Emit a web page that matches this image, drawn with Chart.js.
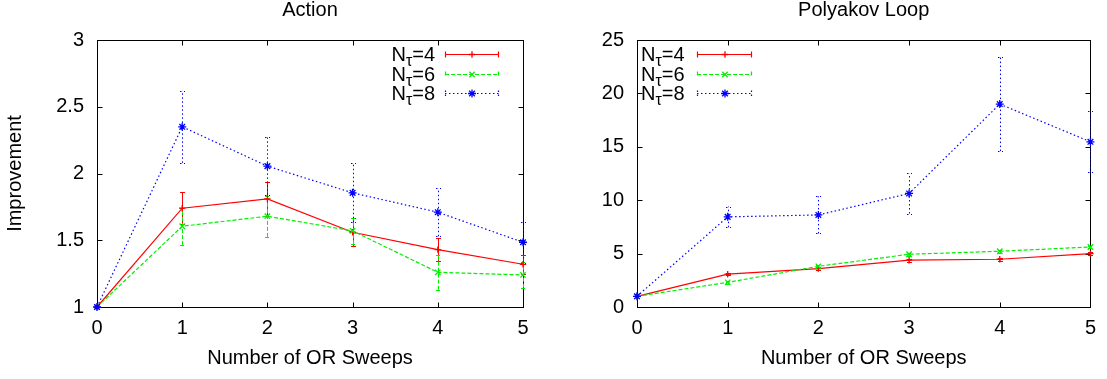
<!DOCTYPE html>
<html>
<head>
<meta charset="utf-8">
<script src="https://cdn.jsdelivr.net/npm/chart.js@4/dist/chart.umd.min.js"></script>
<style>
html,body{margin:0;padding:0;background:#fff;}
#wrap{position:relative;width:1107px;height:379px;overflow:hidden;background:#fff;}
#wrap canvas{position:absolute;top:0;}
</style>
</head>
<body>
<div id="wrap">
<canvas id="c1" width="553" height="379" style="left:0px"></canvas>
<canvas id="c2" width="554" height="379" style="left:553px"></canvas>
</div>
<script>
// ---------------- data ----------------
const sweeps = [0, 1, 2, 3, 4, 5];
const xTickValues = [0, 1, 2, 3, 4, 5];
const actionTickValues = [1, 1.5, 2, 2.5, 3];
const polyTickValues = [0, 5, 10, 15, 20, 25];
const ntValues = ['4', '6', '8'];

const actionN4    = [1.00, 1.74, 1.81, 1.56, 1.43, 1.32];
const actionN4Err = [0, 0.12, 0.125, 0.105, 0.085, 0.07];
const actionN6    = [1.00, 1.605, 1.68, 1.57, 1.26, 1.24];
const actionN6Err = [0, 0.14, 0.155, 0.10, 0.13, 0.095];
const actionN8    = [1.00, 2.35, 2.055, 1.855, 1.71, 1.485];
const actionN8Err = [0, 0.27, 0.215, 0.22, 0.18, 0.152];

const polyN4    = [1.0, 3.07, 3.60, 4.38, 4.47, 5.00];
const polyN4Err = [0, 0.12, 0.12, 0.12, 0.12, 0.12];
const polyN6    = [1.0, 2.31, 3.81, 4.94, 5.22, 5.62];
const polyN6Err = [0, 0.12, 0.12, 0.12, 0.12, 0.12];
const polyN8    = [1.0, 8.44, 8.62, 10.63, 19.0, 15.47];
const polyN8Err = [0, 0.97, 1.73, 1.88, 4.40, 2.85];

// ---------------- styles ----------------
const FONT = "'Liberation Sans', Arial, Helvetica, sans-serif";
Chart.defaults.font.family = FONT;
Chart.defaults.color = '#000';

const seriesStyles = [
  {color: '#ff0000', dash: [],       pointStyle: 'cross',    radius: 3.2, width: 1.2},
  {color: '#00f000', dash: [4, 2],   pointStyle: 'crossRot', radius: 3.8, width: 1.2},
  {color: '#0000ff', dash: [1.5, 2.5], pointStyle: 'star',   radius: 4,   width: 1.2}
];

// ---------------- plugins ----------------
const framePlugin = {
  id: 'frame',
  beforeDatasetsDraw(chart) {
    const {ctx, chartArea: a, scales} = chart;
    const L = Math.round(a.left) + 0.5, R = Math.round(a.right) + 0.5;
    const T = Math.round(a.top) + 0.5, B = Math.round(a.bottom) + 0.5;
    ctx.save();
    ctx.strokeStyle = '#000';
    ctx.lineWidth = 1;
    ctx.setLineDash([]);
    ctx.strokeRect(L, T, R - L, B - T);
    const tl = 5;
    ctx.beginPath();
    scales.x.ticks.forEach(t => {
      const px = Math.round(scales.x.getPixelForValue(t.value)) + 0.5;
      ctx.moveTo(px, B); ctx.lineTo(px, B - tl);
      ctx.moveTo(px, T); ctx.lineTo(px, T + tl);
    });
    scales.y.ticks.forEach(t => {
      const py = Math.round(scales.y.getPixelForValue(t.value)) + 0.5;
      ctx.moveTo(L, py); ctx.lineTo(L + tl, py);
      ctx.moveTo(R, py); ctx.lineTo(R - tl, py);
    });
    ctx.stroke();
    ctx.restore();
  }
};

const errorBarPlugin = {
  id: 'errorBars',
  beforeDatasetsDraw(chart) {
    const {ctx, scales: {x, y}} = chart;
    chart.data.datasets.forEach(ds => {
      ctx.save();
      ctx.strokeStyle = ds.borderColor;
      ctx.lineWidth = 1;
      ctx.setLineDash(ds.borderDash || []);
      ctx.beginPath();
      ds.data.forEach((p, j) => {
        const e = ds.errors[j];
        if (!e) return;
        const px = Math.round(x.getPixelForValue(p.x)) + 0.5;
        const y1 = y.getPixelForValue(p.y - e);
        const y2 = y.getPixelForValue(p.y + e);
        ctx.moveTo(px, y1); ctx.lineTo(px, y2);
        ctx.moveTo(px - 2.5, Math.round(y1) + 0.5); ctx.lineTo(px + 2.5, Math.round(y1) + 0.5);
        ctx.moveTo(px - 2.5, Math.round(y2) + 0.5); ctx.lineTo(px + 2.5, Math.round(y2) + 0.5);
      });
      ctx.stroke();
      ctx.restore();
    });
  }
};

const ntLegendPlugin = {
  id: 'ntLegend',
  afterDatasetsDraw(chart, args, o) {
    const {ctx} = chart;
    chart.data.datasets.forEach((ds, i) => {
      const y = o.rowY[i];
      ctx.save();
      ctx.fillStyle = '#000';
      ctx.textBaseline = 'alphabetic';
      ctx.textAlign = 'left';
      const big = '20px ' + FONT, small = '16px ' + FONT;
      ctx.font = big;
      const wN = ctx.measureText('N').width;
      const wEq = ctx.measureText('=' + ds.nt).width;
      ctx.font = small;
      const wT = ctx.measureText('τ').width;
      const total = wN + wT + wEq;
      const x0 = o.align === 'right' ? o.textX - total : o.textX;
      const base = y + 7;
      ctx.font = big;
      ctx.fillText('N', x0, base);
      ctx.font = small;
      ctx.fillText('τ', x0 + wN, base + 5);
      ctx.font = big;
      ctx.fillText('=' + ds.nt, x0 + wN + wT, base);
      // sample line with error-bar caps
      const ly = Math.round(y) + 0.5;
      ctx.strokeStyle = ds.borderColor;
      ctx.lineWidth = ds.borderWidth;
      ctx.setLineDash(ds.borderDash || []);
      ctx.beginPath();
      ctx.moveTo(o.lineX1, ly); ctx.lineTo(o.lineX2, ly);
      ctx.moveTo(o.lineX1 + 0.5, ly - 3); ctx.lineTo(o.lineX1 + 0.5, ly + 3);
      ctx.moveTo(o.lineX2 - 0.5, ly - 3); ctx.lineTo(o.lineX2 - 0.5, ly + 3);
      ctx.stroke();
      ctx.setLineDash([]);
      ctx.fillStyle = ds.borderColor;
      ctx.lineWidth = ds.pointBorderWidth;
      Chart.helpers.drawPoint(ctx, {pointStyle: ds.pointStyle, radius: ds.pointRadius, borderWidth: ds.pointBorderWidth, rotation: 0},
        Math.round((o.lineX1 + o.lineX2) / 2), ly);
      ctx.restore();
    });
  }
};

// ---------------- chart factory ----------------
function buildChart(canvasId, cfg) {
  const datasets = cfg.series.map((s, i) => ({
    label: 'Nτ=' + ntValues[i],
    nt: ntValues[i],
    data: sweeps.map((xv, j) => ({x: xv, y: s.values[j]})),
    errors: s.errors,
    borderColor: seriesStyles[i].color,
    backgroundColor: seriesStyles[i].color,
    borderWidth: seriesStyles[i].width,
    borderDash: seriesStyles[i].dash,
    pointStyle: seriesStyles[i].pointStyle,
    pointRadius: seriesStyles[i].radius,
    pointHoverRadius: seriesStyles[i].radius,
    pointBorderWidth: 1.3,
    pointBorderColor: seriesStyles[i].color,
    pointBackgroundColor: seriesStyles[i].color,
    fill: false,
    tension: 0,
    clip: false,
    order: 3 - i
  }));
  const tickFont = {family: FONT, size: 20, lineHeight: 1};
  return new Chart(document.getElementById(canvasId), {
    type: 'line',
    data: {datasets},
    options: {
      responsive: false,
      animation: false,
      devicePixelRatio: 1,
      events: [],
      layout: {padding: {left: 0, right: cfg.rightPad, top: 0, bottom: 0}},
      plugins: {
        legend: {display: false},
        tooltip: {enabled: false},
        title: {
          display: true, text: cfg.title, fullSize: false, color: '#000',
          font: {family: FONT, size: 20, weight: 'normal', lineHeight: 1},
          padding: {top: 0, bottom: 20}
        },
        ntLegend: cfg.legend
      },
      scales: {
        x: {
          type: 'linear', min: 0, max: 5,
          afterBuildTicks: s => { s.ticks = xTickValues.map(v => ({value: v})); },
          afterFit: s => { s.height = 72; },
          grid: {display: false, drawTicks: false},
          border: {display: false},
          ticks: {padding: 11, font: tickFont, color: '#000', maxRotation: 0, autoSkip: false,
                  callback: v => String(v)},
          title: {display: true, text: 'Number of OR Sweeps', color: '#000',
                  font: {family: FONT, size: 20, lineHeight: 1}, padding: {top: 0, bottom: 11}}
        },
        y: {
          type: 'linear', min: cfg.yMin, max: cfg.yMax,
          afterBuildTicks: s => { s.ticks = cfg.yTicks.map(v => ({value: v})); },
          afterFit: s => { s.width = cfg.yWidth; },
          grid: {display: false, drawTicks: false},
          border: {display: false},
          ticks: {padding: 13, font: tickFont, color: '#000', autoSkip: false,
                  callback: v => String(v)},
          title: cfg.yTitle ? {display: true, text: cfg.yTitle, color: '#000',
                  font: {family: FONT, size: 20, lineHeight: 1}, padding: {top: 5, bottom: 0}}
                : {display: false}
        }
      }
    },
    plugins: [framePlugin, errorBarPlugin, ntLegendPlugin]
  });
}

buildChart('c1', {
  title: 'Action',
  yTitle: 'Improvement',
  yMin: 1, yMax: 3, yTicks: actionTickValues,
  yWidth: 97, rightPad: 30,
  series: [
    {values: actionN4, errors: actionN4Err},
    {values: actionN6, errors: actionN6Err},
    {values: actionN8, errors: actionN8Err}
  ],
  legend: {align: 'right', textX: 435, lineX1: 445, lineX2: 499, rowY: [54, 73.7, 93.4]}
});

buildChart('c2', {
  title: 'Polyakov Loop',
  yTitle: null,
  yMin: 0, yMax: 25, yTicks: polyTickValues,
  yWidth: 84, rightPad: 12,
  series: [
    {values: polyN4, errors: polyN4Err},
    {values: polyN6, errors: polyN6Err},
    {values: polyN8, errors: polyN8Err}
  ],
  legend: {align: 'left', textX: 88, lineX1: 144, lineX2: 199, rowY: [54, 73.7, 93.4]}
});
</script>
</body>
</html>
